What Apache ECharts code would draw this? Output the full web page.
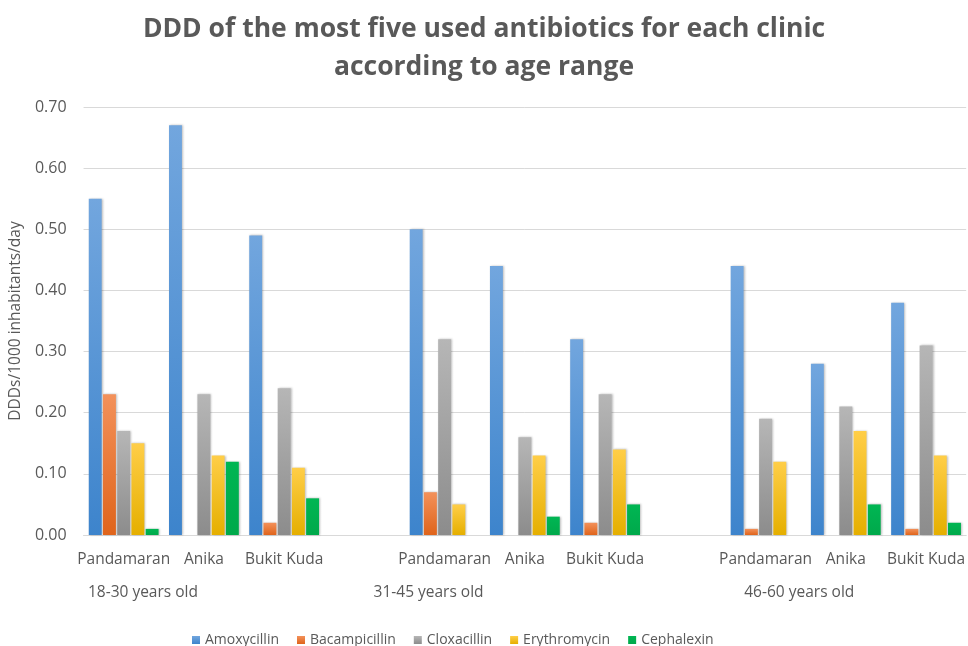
<!DOCTYPE html>
<html>
<head>
<meta charset="utf-8">
<script src="https://cdn.jsdelivr.net/npm/echarts@6/dist/echarts.min.js"></script>
<style>
html,body{margin:0;padding:0;background:#fff;}
#chart{width:968px;height:646px;}
</style>
</head>
<body>
<div id="chart"></div>
<script>
// Clinic categories (blank entries separate the age groups)
var clinics = ['Pandamaran', 'Anika', 'Bukit Kuda', '', 'Pandamaran', 'Anika', 'Bukit Kuda', '', 'Pandamaran', 'Anika', 'Bukit Kuda'];
var ageGroups = ['18-30 years old', '31-45 years old', '46-60 years old'];
var seriesNames = ['Amoxycillin', 'Bacampicillin', 'Cloxacillin', 'Erythromycin', 'Cephalexin'];
// values per clinic category (null = gap category)
var amoxycillin   = [0.55, 0.67, 0.49, null, 0.50, 0.44, 0.32, null, 0.44, 0.28, 0.38];
var bacampicillin = [0.23, 0,    0.02, null, 0.07, 0,    0.02, null, 0.01, 0,    0.01];
var cloxacillin   = [0.17, 0.23, 0.24, null, 0.32, 0.16, 0.23, null, 0.19, 0.21, 0.31];
var erythromycin  = [0.15, 0.13, 0.11, null, 0.05, 0.13, 0.14, null, 0.12, 0.17, 0.13];
var cephalexin    = [0.01, 0.12, 0.06, null, 0,    0.03, 0.05, null, 0,    0.05, 0.02];
var yTicks = [0, 0.1, 0.2, 0.3, 0.4, 0.5, 0.6, 0.7];

var allData = [amoxycillin, bacampicillin, cloxacillin, erythromycin, cephalexin];
var gradients = [
  ['#72a6de', '#3d84cc'],
  ['#f3915a', '#df641b'],
  ['#b6b6b6', '#8c8c8c'],
  ['#ffce48', '#e5af00'],
  ['#00b653', '#00a94b']
];
var legendColors = ['#5b9bd5', '#ed7d31', '#a5a5a5', '#ffc000', '#00b050'];

// age label anchor positions along the category span (layout)
var ageLabelPos = [0.74, 4.30, 8.92];

var chart = echarts.init(document.getElementById('chart'), null, {renderer: 'canvas'});
var FONT = '"Open Sans", "Noto Sans", sans-serif';
var series = seriesNames.map(function (name, i) {
  return {
    name: name,
    type: 'bar',
    xAxisIndex: 0,
    data: allData[i],
    barGap: '10%',
    barCategoryGap: '13%',
    color: legendColors[i],
    itemStyle: {
      color: new echarts.graphic.LinearGradient(0, 0, 0, 1, [
        {offset: 0, color: gradients[i][0]},
        {offset: 1, color: gradients[i][1]}
      ]),
      shadowColor: 'rgba(0,0,0,0.25)',
      shadowBlur: 2,
      shadowOffsetX: 1,
      shadowOffsetY: 0
    },
    emphasis: {disabled: true}
  };
});

chart.setOption({
  animation: false,
  backgroundColor: '#ffffff',
  title: {
    text: 'DDD of the most five used antibiotics for each clinic\naccording to age range',
    left: 'center',
    top: 5,
    textStyle: {
      fontFamily: FONT,
      fontSize: 26.5,
      fontWeight: 'bold',
      color: '#595959',
      lineHeight: 38
    }
  },
  legend: {
    data: seriesNames,
    top: 628,
    left: 187,
    itemWidth: 8,
    itemHeight: 8,
    itemGap: 18,
    icon: 'rect',
    textStyle: {fontFamily: FONT, fontSize: 14, color: '#595959'}
  },
  grid: {left: 82, right: 0, top: 107, bottom: 111, containLabel: false},
  xAxis: [
    {
      type: 'category',
      data: clinics,
      axisLine: {show: true, lineStyle: {color: '#d9d9d9'}},
      axisTick: {show: false},
      axisLabel: {fontFamily: FONT, fontSize: 15.5, color: '#595959', margin: 17, interval: 0}
    },
    {
      type: 'value',
      position: 'bottom',
      min: 0,
      max: clinics.length,
      axisLine: {show: false},
      axisTick: {show: false},
      splitLine: {show: false},
      axisLabel: {
        show: true,
        customValues: ageLabelPos,
        margin: 50,
        fontFamily: FONT,
        fontSize: 15.5,
        color: '#595959',
        formatter: function (v) {
          var best = 0, d = 1e9;
          for (var i = 0; i < ageLabelPos.length; i++) {
            var dd = Math.abs(ageLabelPos[i] - v);
            if (dd < d) { d = dd; best = i; }
          }
          return ageGroups[best];
        }
      }
    }
  ],
  yAxis: {
    type: 'value',
    min: yTicks[0],
    max: yTicks[yTicks.length - 1],
    interval: 0.1,
    name: 'DDDs/1000 inhabitants/day',
    nameLocation: 'middle',
    nameGap: 58,
    nameTextStyle: {fontFamily: FONT, fontSize: 15.5, color: '#595959'},
    axisLine: {show: false},
    axisTick: {show: false},
    splitLine: {lineStyle: {color: '#d9d9d9', width: 1}},
    axisLabel: {
      fontFamily: FONT, fontSize: 16, color: '#595959', margin: 17,
      formatter: function (v) { return v.toFixed(2); }
    }
  },
  series: series
});
</script>
</body>
</html>
